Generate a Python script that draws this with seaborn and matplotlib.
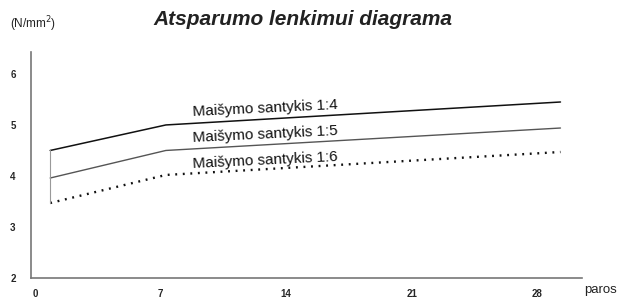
import numpy as np
import pandas as pd
import matplotlib
matplotlib.use("Agg")
import matplotlib.pyplot as plt
import seaborn as sns

# -----------------------------
# Data
# -----------------------------
days = [0.85, 7.3, 29.3]
mix_14 = [4.50, 5.00, 5.45]
mix_15 = [3.96, 4.50, 4.94]
mix_16 = [3.47, 4.02, 4.47]
series_labels = ["Maišymo santykis 1:4", "Maišymo santykis 1:5", "Maišymo santykis 1:6"]
x_ticks = [0, 7, 14, 21, 28]
y_ticks = [2, 3, 4, 5, 6]

df = pd.DataFrame({
    "days": days * 3,
    "value": mix_14 + mix_15 + mix_16,
    "mix": [s for s in series_labels for _ in days],
})

# -----------------------------
# Plot
# -----------------------------
sns.set_style("white")
plt.rcParams["font.family"] = ["Liberation Sans", "DejaVu Sans"]

fig = plt.figure(figsize=(6.3, 2.98), dpi=100)
ax = fig.add_axes([0.0492, 0.0671, 0.8746, 0.7584])

styles = {
    series_labels[0]: dict(color="#111111", lw=1.1, ls="-"),
    series_labels[1]: dict(color="#555555", lw=1.0, ls="-"),
    series_labels[2]: dict(color="#111111", lw=1.7, ls=(0, (0.8, 2.4))),
}
for name, sub in df.groupby("mix", sort=False):
    st = styles[name]
    sns.lineplot(data=sub, x="days", y="value", ax=ax, color=st["color"],
                 linewidth=st["lw"], linestyle=st["ls"], legend=False)

# thin connector at the start of the curves
ax.plot([days[0], days[0]], [mix_16[0], mix_14[0]], color="#999999", lw=0.8)

# series labels
label_y = [5.17, 4.67, 4.15]
for name, ly in zip(series_labels, label_y):
    ax.text(8.8, ly, name, fontsize=11, rotation=2.8, rotation_mode="anchor",
            ha="left", va="baseline", color="#111111")

ax.set_xlim(-0.22, 30.5)
ax.set_ylim(2, 6.43)
ax.set_xticks(x_ticks)
ax.set_yticks(y_ticks)
ax.set_xticklabels([str(t) for t in x_ticks], fontsize=7, fontweight="bold")
ax.set_yticklabels([str(t) for t in y_ticks], fontsize=7, fontweight="bold")
ax.tick_params(axis="both", length=0, pad=8)
ax.tick_params(axis="y", pad=11)
ax.set_xlabel("")
ax.set_ylabel("")

for side in ["top", "right"]:
    ax.spines[side].set_visible(False)
for side in ["left", "bottom"]:
    ax.spines[side].set_color("#777777")
    ax.spines[side].set_linewidth(1.2)

fig.text(0.4815, 0.935, "Atsparumo lenkimui diagrama", ha="center", va="center",
         fontsize=15, fontweight="bold", fontstyle="italic", color="#222222")
fig.text(0.016, 0.92, "(N/mm$^2$)", ha="left", va="center", fontsize=8.5,
         color="#222222")
fig.text(0.928, 1 - 293 / 298, "paros", ha="left", va="baseline", fontsize=9.5,
         color="#222222")

plt.savefig("out.png", dpi=100)
plt.close()
